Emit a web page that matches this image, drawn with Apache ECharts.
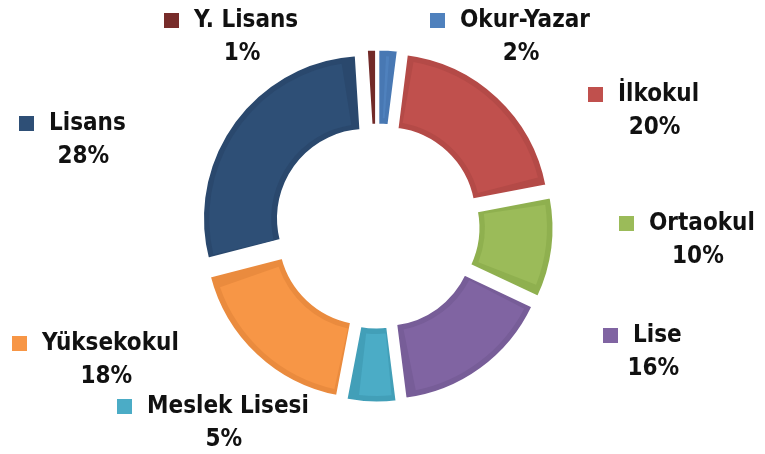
<!DOCTYPE html>
<html>
<head>
<meta charset="utf-8">
<script src="https://cdn.jsdelivr.net/npm/echarts@6/dist/echarts.min.js"></script>
<style>
  html, body { margin: 0; padding: 0; background: #fff; }
  #chart { width: 765px; height: 454px; }
</style>
</head>
<body>
<div id="chart"></div>
<script>
// egitim durumu dagilimi (saat yonunde, tepeden baslayarak)
const categories = ['Okur-Yazar', 'İlkokul', 'Ortaokul', 'Lise', 'Meslek Lisesi', 'Yüksekokul', 'Lisans', 'Y. Lisans'];
const percents = [2, 20, 10, 16, 5, 18, 28, 1];

const faceColors = ['#4F81BD', '#C0504D', '#9BBB59', '#8064A2', '#4BACC6', '#F79646', '#2E4F76', '#772C2A'];
const edgeColors = ['#4878B3', '#B44A47', '#8FB04F', '#775D98', '#429FB8', '#EA8B3E', '#2A486D', '#722A28'];

// etiket konumu (kare sol kenari, blok ortasi)
const labelX = [430, 588, 619, 603, 117, 12, 19, 164];
const labelY = [37, 111, 240, 352, 423, 360, 140, 37];

const chart = echarts.init(document.getElementById('chart'));

const rich = {
  nm: {
    fontFamily: 'DejaVu Sans Condensed',
    fontWeight: 'bold',
    fontSize: 24,
    color: '#111',
    lineHeight: 33,
    padding: [0, 0, 0, 15],
    verticalAlign: 'middle'
  },
  pc: {
    fontFamily: 'DejaVu Sans Condensed',
    fontWeight: 'bold',
    fontSize: 24,
    color: '#111',
    lineHeight: 33,
    padding: [0, 0, 0, 22],
    align: 'center',
    verticalAlign: 'middle'
  }
};
faceColors.forEach((c, i) => {
  rich['sq' + i] = {width: 15, height: 15, backgroundColor: c, verticalAlign: 'middle'};
});

const center = [377, 226];

const option = {
  animation: false,
  series: [
    {
      type: 'pie',
      center: center,
      radius: [88, 164],
      startAngle: 90,
      selectedMode: 'multiple',
      selectedOffset: 13,
      silent: true,
      emphasis: {disabled: true},
      itemStyle: {
        borderColor: '#fff',
        borderWidth: 3
      },
      label: {show: false},
      labelLine: {show: false},
      data: categories.map((name, i) => ({
        name: name,
        value: percents[i],
        selected: true,
        itemStyle: {color: edgeColors[i]}
      }))
    },
    {
      // ic yuz (bevel etkisi)
      type: 'pie',
      center: center,
      radius: [95, 157],
      startAngle: 90,
      padAngle: 6,
      selectedMode: 'multiple',
      selectedOffset: 13,
      silent: true,
      emphasis: {disabled: true},
      label: {show: false},
      labelLine: {show: false},
      data: categories.map((name, i) => ({
        name: name,
        value: percents[i],
        selected: true,
        itemStyle: {color: faceColors[i]}
      }))
    },
    {
      // sadece etiketler
      type: 'pie',
      center: center,
      radius: [88, 164],
      startAngle: 90,
      silent: true,
      emphasis: {disabled: true},
      itemStyle: {color: 'rgba(0,0,0,0)'},
      label: {
        show: true,
        position: 'outside',
        formatter: p => `{sq${p.dataIndex}|}{nm|${p.name}}\n{pc|${p.value}%}`,
        rich: rich
      },
      labelLine: {show: false},
      labelLayout: params => ({
        x: labelX[params.dataIndex],
        y: labelY[params.dataIndex],
        align: 'left',
        verticalAlign: 'middle'
      }),
      data: categories.map((name, i) => ({
        name: name,
        value: percents[i]
      }))
    }
  ]
};

chart.setOption(option);
</script>
</body>
</html>
